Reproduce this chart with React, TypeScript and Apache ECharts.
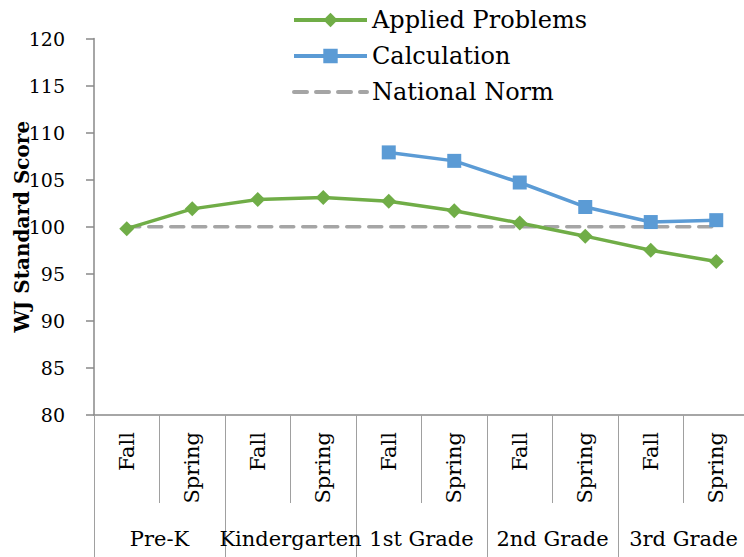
import React, { useEffect, useRef } from "react";
import * as echarts from "echarts";

const seasons = ["Fall", "Spring", "Fall", "Spring", "Fall", "Spring", "Fall", "Spring", "Fall", "Spring"];
const grades = ["Pre-K", "Kindergarten", "1st Grade", "2nd Grade", "3rd Grade"];
const appliedProblems = [99.8, 101.9, 102.9, 103.1, 102.7, 101.7, 100.4, 99.0, 97.5, 96.3];
const calculation = [null, null, null, null, 107.9, 107.0, 104.7, 102.1, 100.5, 100.7];
const nationalNorm = [100, 100, 100, 100, 100, 100, 100, 100, 100, 100];
const yTicks = { min: 80, max: 120, interval: 5 };

const FONT = "DejaVu Serif";
const AXIS_GRAY = "#898989";

export default function App() {
  const ref = useRef<HTMLDivElement>(null);
  useEffect(() => {
    if (!ref.current) return;
    const chart = echarts.init(ref.current, null, { renderer: "svg" });
    chart.setOption({
      animation: false,
      backgroundColor: "#ffffff",
      textStyle: { fontFamily: FONT, color: "#000" },
      legend: {
        orient: "vertical",
        left: 292,
        top: 8,
        padding: 0,
        itemWidth: 73,
        itemHeight: 18,
        itemGap: 12,
        textStyle: { fontFamily: FONT, fontSize: 24, color: "#000" },
        data: [
          { name: "Applied Problems", lineStyle: { width: 4 } },
          { name: "Calculation", lineStyle: { width: 4 } },
          { name: "National Norm", lineStyle: { width: 4 }, itemStyle: { opacity: 0 } },
        ],
      },
      grid: { left: 94, top: 38.5, right: -5, bottom: 142, containLabel: false, outerBoundsMode: "none" },
      xAxis: [
        {
          type: "category",
          data: seasons,
          position: "bottom",
          axisLine: { show: true, lineStyle: { color: AXIS_GRAY, width: 1.5 } },
          axisTick: { show: true, interval: 0, length: 88, lineStyle: { color: "#a0a0a0", width: 1 } },
          axisLabel: {
            interval: 0,
            rotate: 90,
            margin: 17,
            fontFamily: FONT,
            fontSize: 21,
            color: "#000",
          },
        },
        {
          type: "category",
          data: grades,
          position: "bottom",
          axisLine: { show: false },
          axisTick: { show: true, interval: 0, length: 142, lineStyle: { color: "#a0a0a0", width: 1 } },
          axisLabel: { interval: 0, margin: 113, fontFamily: FONT, fontSize: 21, color: "#000" },
        },
      ],
      yAxis: {
        type: "value",
        min: yTicks.min,
        max: yTicks.max,
        interval: yTicks.interval,
        name: "WJ Standard Score",
        nameLocation: "middle",
        nameRotate: 90,
        nameGap: 62,
        nameMoveOverlap: false,
        nameTextStyle: { fontFamily: FONT, fontSize: 20, fontWeight: "bold", color: "#000" },
        axisLine: { show: true, lineStyle: { color: AXIS_GRAY, width: 1.5 } },
        axisTick: { show: true, length: 8, lineStyle: { color: AXIS_GRAY, width: 1.5 } },
        splitLine: { show: false },
        axisLabel: { margin: 29, fontFamily: FONT, fontSize: 19, color: "#000" },
      },
      series: [
        {
          name: "Applied Problems",
          type: "line",
          data: appliedProblems,
          symbol: "diamond",
          symbolSize: 15,
          color: "#70AD47",
          lineStyle: { color: "#70AD47", width: 3.5 },
          itemStyle: { color: "#70AD47" },
          z: 3,
        },
        {
          name: "Calculation",
          type: "line",
          data: calculation,
          symbol: "rect",
          symbolSize: 14,
          color: "#5B9BD5",
          lineStyle: { color: "#5B9BD5", width: 3.5 },
          itemStyle: { color: "#5B9BD5" },
          z: 3,
        },
        {
          name: "National Norm",
          type: "line",
          data: nationalNorm,
          symbol: "none",
          color: "#A5A5A5",
          lineStyle: { color: "#A5A5A5", width: 3.5, type: [13, 9], cap: "round" },
          z: 2,
        },
      ],
    });
    return () => chart.dispose();
  }, []);
  return (
    <div
      ref={ref}
      style={{ position: "fixed", left: 0, top: 0, width: 744, height: 557, background: "#fff" }}
    />
  );
}
